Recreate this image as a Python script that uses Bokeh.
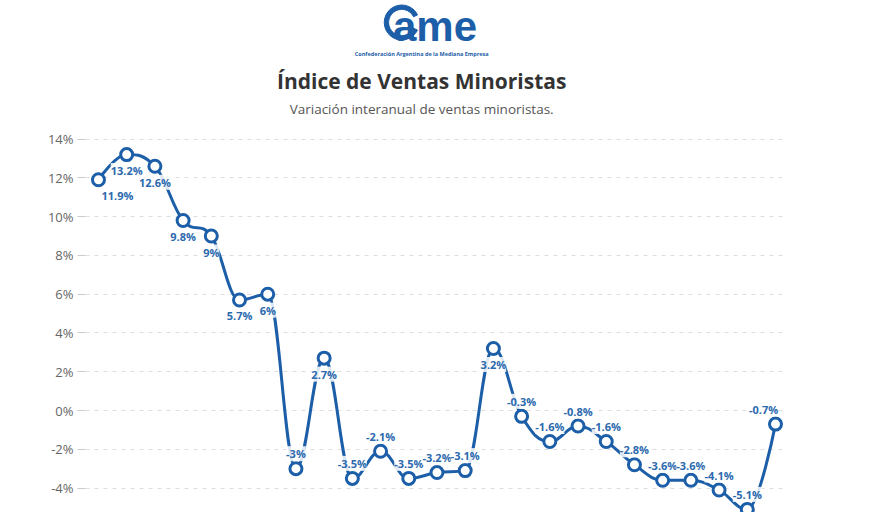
from bokeh.plotting import figure
from bokeh.layouts import column
from bokeh.models import Range1d, FixedTicker, PrintfTickFormatter, ColumnDataSource
from bokeh.core.properties import value
from bokeh.embed import file_html
from bokeh.resources import INLINE

# ---- data ----
values = [11.9, 13.2, 12.6, 9.8, 9, 5.7, 6, -3, 2.7, -3.5, -2.1, -3.5, -3.2, -3.1,
          3.2, -0.3, -1.6, -0.8, -1.6, -2.8, -3.6, -3.6, -4.1, -5.1, -0.7]
y_ticks = [-4, -2, 0, 2, 4, 6, 8, 10, 12, 14]
title_text = "Índice de Ventas Minoristas"
subtitle_text = "Variación interanual de ventas minoristas."
logo_text = "ame"
org_text = "Confederación Argentina de la Mediana Empresa"

LINE = "#1c5ea8"
LABEL = "#2b69ae"
FONT = "Open Sans"

xs = list(range(len(values)))


def spline_controls(px, py, smoothing=1.5):
    """Control points of a Highcharts-like spline through the data points."""
    denom = smoothing + 1
    n = len(px)
    left = [(px[i], py[i]) for i in range(n)]
    right = [(px[i], py[i]) for i in range(n)]
    for i in range(1, n - 1):
        x, y = px[i], py[i]
        lx, ly = px[i - 1], py[i - 1]
        nx, ny = px[i + 1], py[i + 1]
        lcx = (smoothing * x + lx) / denom
        lcy = (smoothing * y + ly) / denom
        rcx = (smoothing * x + nx) / denom
        rcy = (smoothing * y + ny) / denom
        corr = ((rcy - lcy) * (rcx - x)) / (rcx - lcx) + y - rcy
        lcy += corr
        rcy += corr
        if lcy > ly and lcy > y:
            lcy = max(ly, y); rcy = 2 * y - lcy
        elif lcy < ly and lcy < y:
            lcy = min(ly, y); rcy = 2 * y - lcy
        if rcy > ny and rcy > y:
            rcy = max(ny, y); lcy = 2 * y - rcy
        elif rcy < ny and rcy < y:
            rcy = min(ny, y); lcy = 2 * y - rcy
        left[i] = (lcx, lcy)
        right[i] = (rcx, rcy)
    return left, right


left, right = spline_controls(xs, values)
seg = ColumnDataSource(dict(
    x0=xs[:-1], y0=values[:-1], x1=xs[1:], y1=values[1:],
    cx0=[r[0] for r in right[:-1]], cy0=[r[1] for r in right[:-1]],
    cx1=[l[0] for l in left[1:]], cy1=[l[1] for l in left[1:]],
))

n = len(values)
labels = [f"{v:g}%" for v in values]
lab_src = ColumnDataSource(dict(
    x=xs, y=values, text=labels,
    yoff=[16 if v > 0 else -15 for v in values],
    xoff=[19 if i == 0 else (-12 if i == n - 1 else 0) for i in range(n)],
))

# ---- header (logo + titles) ----
W = 880
H_TOP = 125
top = figure(width=W, height=H_TOP, x_range=Range1d(0, W), y_range=Range1d(H_TOP, 0),
             toolbar_location=None, output_backend="svg", min_border=0,
             x_axis_location=None, y_axis_location=None, outline_line_color=None)
top.grid.visible = False
top.annular_wedge(x=[397], y=[22], inner_radius=16.5, outer_radius=22,
                  start_angle=0.45, end_angle=6.28318 - 0.45, color=LINE)
top.text(x=[386], y=[26], text=[logo_text], text_font=value("Liberation Sans"),
         text_font_style="bold", text_font_size="42px", text_color=LINE,
         text_baseline="middle", text_align="left")
top.text(x=[422], y=[53], text=[org_text], text_font=value("Open Sans"),
         text_font_style="bold", text_font_size="5.5px", text_color=LINE,
         text_baseline="middle", text_align="center")
top.text(x=[422], y=[80], text=[title_text], text_font=value(FONT),
         text_font_style="bold", text_font_size="21px", text_color="#333333",
         text_baseline="middle", text_align="center")
top.text(x=[422], y=[108], text=[subtitle_text], text_font=value(FONT),
         text_font_size="13.5px", text_color="#555555",
         text_baseline="middle", text_align="center")

# ---- main chart ----
p = figure(width=W, height=512 - H_TOP, x_range=Range1d(-0.46, 24.39), y_range=Range1d(-5.26, 14.70),
           toolbar_location=None, output_backend="svg", x_axis_location=None,
           min_border_left=85, min_border_right=94, min_border_top=0, min_border_bottom=0,
           outline_line_color=None)
p.xgrid.visible = False
p.ygrid.grid_line_color = "#dedede"
p.ygrid.grid_line_dash = "4 5"
p.ygrid.grid_line_width = 1
p.yaxis.ticker = FixedTicker(ticks=y_ticks)
p.yaxis.formatter = PrintfTickFormatter(format="%d%%")
p.yaxis.axis_line_color = None
p.yaxis.major_tick_line_color = "#cccccc"
p.yaxis.major_tick_out = 8
p.yaxis.major_tick_in = 0
p.yaxis.minor_tick_line_color = None
p.yaxis.major_label_standoff = 4
p.yaxis.major_label_text_font = FONT
p.yaxis.major_label_text_font_size = "13px"
p.yaxis.major_label_text_color = "#666666"

p.bezier(x0="x0", y0="y0", x1="x1", y1="y1", cx0="cx0", cy0="cy0", cx1="cx1", cy1="cy1",
         source=seg, line_color=LINE, line_width=3, line_cap="round")
p.scatter(xs, values, size=12, fill_color="white", line_color=LINE, line_width=3)
p.text(x="x", y="y", text="text", x_offset="xoff", y_offset="yoff", source=lab_src,
       text_font=value(FONT), text_font_style="bold", text_font_size="11px",
       text_color=LABEL, text_align="center", text_baseline="middle",
       background_fill_color="white", background_fill_alpha=0.85)

layout = column(top, p, spacing=0)
open("out.html", "w").write(file_html(layout, INLINE))
